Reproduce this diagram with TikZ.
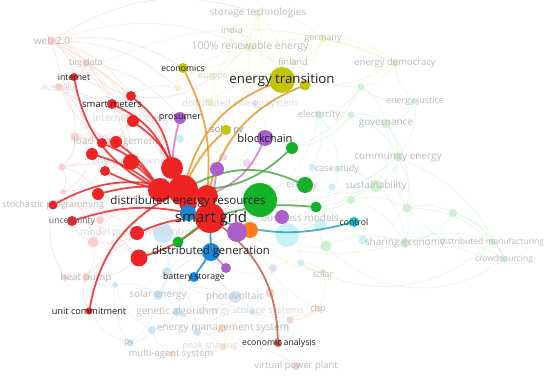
\documentclass[tikz,border=0pt]{standalone}
\usepackage{fontspec}
\setmainfont{Open Sans}
\usepackage{tikz}
\usetikzlibrary{positioning}

\definecolor{vred}{RGB}{238,36,36}
\definecolor{vgreen}{RGB}{20,178,40}
\definecolor{vblue}{RGB}{25,135,215}
\definecolor{vyellow}{RGB}{196,196,8}
\definecolor{vpurple}{RGB}{170,95,205}
\definecolor{vcyan}{RGB}{10,195,215}
\definecolor{vorange}{RGB}{255,125,20}
\definecolor{vbrown}{RGB}{200,90,70}
\definecolor{eorange}{RGB}{232,150,40}
\definecolor{epink}{RGB}{215,120,195}
\definecolor{egreen}{RGB}{70,172,70}
\definecolor{eteal}{RGB}{40,165,190}
\definecolor{fadetext}{RGB}{188,188,188}
\definecolor{faintext}{RGB}{215,215,215}

\newcommand{\fs}[1]{\fontsize{#1}{#1}\selectfont}

\pgfdeclarelayer{back}
\pgfdeclarelayer{fade}
\pgfdeclarelayer{hl}
\pgfsetlayers{back,fade,hl,main}

\begin{document}
\begin{tikzpicture}[x=1pt,y=-1pt,
kw/.style={circle,inner sep=0pt,minimum size=#1pt},
lab/.style={inner sep=0pt,text=black!88,font=\fs{#1}},
flab/.style={inner sep=0pt,font=\fs{#1}},
hl/.style={line width=1.8pt,draw opacity=0.85,line cap=round},
bg/.style={line width=0.5pt,draw opacity=0.55}
]
\useasboundingbox (0,0) rectangle (550,377);

% faded keywords
\begin{pgfonlayer}{fade}
\foreach \n/\x/\y/\d in {fr1/52/41/9,fr2/86/63/8,fr3/59/87/8,fr4/75/137/9,fr5/62/167/7,fr6/63/192/6,fr7/100/220/8,fr8/93/242/11,fr9/86/277/8,fr10/65/278/6}
  \node[kw=\d,fill=vred!22] (\n) at (\x,\y) {};
\foreach \n/\x/\y/\d in {fy1/258/13/8,fy2/232/30/5,fy3/250/47/9,fy4/323/39/7,fy5/293/62/7,fy6/213/77/7,fy7/210/102/8,fy8/395/63/8,fy9/178/88/6}
  \node[kw=\d,fill=vyellow!25] (\n) at (\x,\y) {};
\foreach \n/\x/\y/\d in {fg1/361/87/7,fg2/319/115/8,fg3/351/115/7,fg4/415/101/6,fg5/386/124/9,fg6/398/157/9,fg7/337/169/6,fg8/376/186/12,fg9/351/200/8,fg10/407/208/9,fg11/453/213/8,fg12/326/246/11,fg13/405/243/10,fg14/492/242/7,fg15/504/259/7}
  \node[kw=\d,fill=vgreen!20] (\n) at (\x,\y) {};
\foreach \n/\x/\y/\d in {fb1/163/233/20,fb2/167/272/10,fb3/158/295/10,fb4/235/297/12,fb5/177/312/9,fb6/152/330/8,fb7/130/343/7,fb8/197/332/8,fb9/252/312/6,fb10/115/285/6}
  \node[kw=\d,fill=vblue!22] (\n) at (\x,\y) {};
\foreach \n/\x/\y/\d in {fc1/287/235/24,fc2/320/225/12,fc3/363/240/9,fc4/301/263/7,fc5/312/167/7,fc6/332/187/7,fc7/180/139/8}
  \node[kw=\d,fill=vcyan!22] (\n) at (\x,\y) {};
\foreach \n/\x/\y/\d in {fo1/323/272/6,fo2/318/309/7,fo3/223/328/8,fo4/223/347/7,fo5/172/354/6}
  \node[kw=\d,fill=vorange!25] (\n) at (\x,\y) {};
\foreach \n/\x/\y/\d in {fp1/163/151/8,fp2/223/157/8,fp3/247/163/8,fp5/273/268/8,fp6/255/103/6}
  \node[kw=\d,fill=vpurple!25] (\n) at (\x,\y) {};
\foreach \n/\x/\y/\d in {fw1/296/366/8,fw2/290/320/7,fw3/270/293/9}
  \node[kw=\d,fill=vbrown!25] (\n) at (\x,\y) {};

\foreach \t/\x/\y/\s/\c [count=\i] in {
  storage technologies/258/13/10/fadetext, india/232/30/9.5/fadetext,
  100\% renewable energy/250/47/10.5/fadetext, germany/323/39/9/fadetext,
  finland/293/62/9/fadetext, europe/213/77/9/faintext,
  energy democracy/395/63/9.5/fadetext, web 2.0/52/41/10/fadetext,
  big data/86/63/9/fadetext, australia/59/87/9/faintext,
  internet of things/133/119/10/faintext, load management/116/142/10/fadetext,
  energy efficiency/131/162/10/faintext, distributed energy system/240/104/9.5/faintext,
  solar pv/227/130/9/black!45, electricity/319/115/9.5/fadetext,
  energy justice/415/101/9/fadetext, governance/386/124/10/fadetext,
  community energy/398/157/10/fadetext, case study/337/169/9/fadetext,
  energy/302/186/10/fadetext, sustainability/376/186/10/fadetext,
  business models/300/218/10/fadetext, sharing economy/405/243/10/fadetext,
  distributed manufacturing/492/242/8.5/fadetext, crowdsourcing/504/259/8.5/fadetext,
  stochastic programming/53/205/9/fadetext, model predictive control/137/233/10/faintext,
  heat pump/86/278/10/fadetext, solar/323/274/9/fadetext,
  chp/318/309/9/fadetext, solar energy/158/295/10/fadetext,
  photovoltaic/235/297/10/fadetext, genetic algorithm/177/312/10/fadetext,
  energy storage systems/252/312/9.5/faintext, energy management system/223/328/10/fadetext,
  peak shaving/210/346/9/faintext, multi-agent system/171/354/9.5/fadetext,
  virtual power plant/296/366/9.5/fadetext, pv/129/343/9/fadetext}
  \node[flab=\s,text=\c] (fl\i) at (\x,\y) {\t};
\end{pgfonlayer}

% highlighted keywords
\foreach \n/\x/\y/\d in {hr1/74/77/8,hr2/131/96/10,hr3/112/104/10,hr4/133/121/12,hr5/102/143/10,hr6/116/142/12,hr7/92/154/12,hr8/131/162/16,hr9/105/171/10,hr10/98/194/12,hr11/53/205/9,hr12/72/221/10,hr13/137/233/14,hr14/139/258/17,hr15/89/311/7,ra/172/168/22,rb/160/190/24,rc/207/196/22,rd/188/203/18,der/183/190/30}
  \node[kw=\d,fill=vred] (\n) at (\x,\y) {};
\node[kw=16,fill=vblue] (bl1) at (188,213) {};
\node[kw=30,fill=vred] (sg) at (210,218) {};
\foreach \n/\x/\y/\d in {gbig/260/200/34,g1/292/148/12,g2/305/185/16,g3/316/207/11,g4/178/242/11}
  \node[kw=\d,fill=vgreen] (\n) at (\x,\y) {};
\foreach \n/\x/\y/\d in {bc/265/138/16,pro/180/118/12,p1/217/169/14,p2/282/217/14,p4/226/268/10}
  \node[kw=\d,fill=vpurple] (\n) at (\x,\y) {};
\node[kw=16,fill=vorange] (o1) at (250,230) {};
\node[kw=20,fill=vpurple] (p3) at (237,232) {};
\node[kw=18,fill=vblue] (dg) at (211,252) {};
\node[kw=10,fill=vblue] (bs) at (194,277) {};
\node[kw=10,fill=vcyan] (ctl) at (354,222) {};
\node[kw=8,fill=vbrown] (ea) at (278,343) {};
\node[kw=26,fill=vyellow] (et) at (282,80) {};
\node[kw=11,fill=vyellow] (et2) at (305,85) {};
\node[kw=10,fill=vyellow] (eco) at (183,68) {};
\node[kw=10,fill=vyellow] (spv) at (226,130) {};

% faint links
\begin{pgfonlayer}{back}
\foreach \a/\b in {fr1/hr1,fr1/fr2,fr1/hr2,fr1/hr8,fr2/hr1,fr2/fr3,fr3/hr7,fr3/fr4,fr4/hr7,fr4/fr5,fr5/fr6,fr6/hr11,fr7/hr12,fr8/fr9,fr8/hr14,fr9/fr10,fr10/hr11,fr1/der,fr2/der,fr3/ra,fr4/rb,fr5/rb,fr8/rb,fr9/sg,fr7/der,hr1/hr4,hr2/hr6,hr3/hr8,hr5/hr9,hr9/hr13,hr11/hr13,hr12/hr14,fr1/eco,fr2/pro,fr5/hr10,fr6/fr8,fr1/fy9,hr2/fr2,hr3/fr3,hr4/fr4,hr5/fr5,hr6/fr3,hr7/fr6,hr8/fr1,hr9/fr6,hr10/fr7,hr13/fr8,hr14/fr9,hr15/fr9,fr8/hr12,fr7/fr8,hr11/fr7,fr4/hr6,fr2/hr3,fr3/hr1,fr10/fb10,hr13/fb1,fr1/hr3,fr2/hr4,hr2/fy9,fy6/hr2}
  \draw[bg,vred!30] (\a) to[bend left=20] (\b);
\foreach \a/\b in {fy1/fy3,fy1/et,fy2/fy3,fy3/et,fy3/eco,fy4/et,fy4/fy5,fy5/et,fy6/et,fy6/eco,fy7/et,fy7/spv,fy8/et,fy8/fg1,fy1/fy4,fy1/fy6,fy3/fy8,fy2/fy6,fy3/der,fy1/sg,fy7/der,fy9/eco,fy9/fy7,fy4/fy8,fy2/et,fy5/fy3,fy6/fy7,fy9/fy3}
  \draw[bg,vyellow!35] (\a) to[bend left=20] (\b);
\foreach \a/\b in {fg1/fg5,fg1/fg2,fg2/fg3,fg3/fg5,fg4/fg5,fg4/fg6,fg5/fg6,fg6/fg8,fg7/fg8,fg8/fg13,fg9/fg10,fg10/fg11,fg11/fg13,fg13/fg14,fg14/fg15,fg13/fg15,fg12/fg13,fg8/gbig,fg6/gbig,fg2/gbig,fg10/fg14,fg6/fg13,fg1/g1,fg8/g2,fg4/fy8,fg13/sg,fg6/fg15,fg11/fg15,fg3/g1,fg9/g3,fg12/g3,fg2/fg7,fg1/fy5,fg2/fc5,fg5/fg8,fg3/fg6,fg7/fc6,fg9/fg13,fg12/fc1,fg10/fg6,fg4/fg1,fg11/fg14,fg5/fg10,g2/fg7,fg15/fg10}
  \draw[bg,vgreen!25] (\a) to[bend left=20] (\b);
\foreach \a/\b in {fb1/fb3,fb2/fb3,fb3/fb5,fb3/fb4,fb4/fb5,fb5/fb6,fb6/fb7,fb5/fb8,fb8/fb9,fb4/fb9,fb4/dg,fb3/dg,fb6/fb8,fb7/fb10,fb10/fb3,fb2/dg,fb1/fb2,fb9/fw3,fb7/hr15,fb10/fr9,fb1/dg,fb2/fb8,fb3/fb7,fb6/fb10,fb5/fb9,fb4/fb2,fb8/fo4,bs/fb2,bs/fb4}
  \draw[bg,vblue!25] (\a) to[bend left=20] (\b);
\foreach \a/\b in {fo1/fo2,fo2/fo3,fo3/fo4,fo4/fo5,fo2/o1,fo1/o1,fo3/fb4,fo5/fb6,fo2/fw2,fo4/fw1,fo1/fc4,fo2/fb9,fo3/fb8,fo5/fb7}
  \draw[bg,vorange!30] (\a) to[bend left=20] (\b);
\foreach \a/\b in {fc1/fc2,fc2/ctl,fc3/ctl,fc1/fc4,fc5/fc6,fc6/fc1,fc7/pro,fc2/fg8,fc3/fg13,fc4/fo1,fw1/fw2,fw2/fw3,fw3/ea,fw1/ea,fw2/ea,fp1/pro,fp2/p1,fp3/bc,fp5/p4,fp6/bc,fp2/fp3,fp1/ra,fp5/fc4}
  \draw[bg,vcyan!25] (\a) to[bend left=20] (\b);
\draw[bg,vgreen!25] (fg12) to[bend right=40] (fg15);
\draw[bg,vgreen!25] (fc4) to[bend right=35] (fg14);
\draw[bg,vyellow!35] (hr1) to[bend left=25] (fy8);
\draw[bg,vyellow!35] (fr1) to[bend left=20] (fy3);
\draw[bg,vred!30] (fr1) to[bend left=25] (fy1);
\end{pgfonlayer}

% links of smart grid
\begin{pgfonlayer}{hl}
\draw[hl,vred] (rb) to[bend left=25] (hr1);
\draw[hl,vred] (ra) to[bend right=20] (hr2);
\draw[hl,vred] (ra) to[bend right=20] (hr3);
\draw[hl,vred] (der) to[bend right=15] (hr4);
\draw[hl,vred] (rb) to[bend right=15] (hr5);
\draw[hl,vred] (rb) to[bend right=10] (hr6);
\draw[hl,vred] (rb) to[bend right=10] (hr7);
\draw[hl,vred] (rb) to[bend right=5] (hr8);
\draw[hl,vred] (der) to[bend left=10] (hr9);
\draw[hl,vred] (der) to[bend right=10] (hr10);
\draw[hl,vred] (der) to[bend right=20] (hr11);
\draw[hl,vred] (sg) to[bend right=15] (hr12);
\draw[hl,vred] (sg) to[bend right=10] (hr13);
\draw[hl,vred] (sg) to[bend left=10] (hr14);
\draw[hl,vred] (der) to[bend right=25] (hr15);
\draw[hl,eorange] (rc) to[bend right=15] (eco);
\draw[hl,eorange] (der) to[bend left=25] (et);
\draw[hl,eorange] (rc) to[bend left=25] (et2);
\draw[hl,eorange] (der) to[bend left=10] (spv);
\draw[hl,epink] (ra) to[bend left=5] (pro);
\draw[hl,epink] (rc) to[bend right=20] (bc);
\draw[hl,epink] (sg) -- (p1);
\draw[hl,egreen] (der) to[bend right=20] (g1);
\draw[hl,egreen] (der) to[bend left=25] (g2);
\draw[hl,egreen] (sg) to[bend left=10] (g3);
\draw[hl,egreen] (sg) -- (g4);
\draw[hl,eteal] (sg) to[bend right=15] (ctl);
\draw[hl,vbrown] (sg) to[bend left=25] (ea);
\draw[hl,vblue] (sg) -- (dg);
\draw[hl,vblue] (dg) -- (bs);
\draw[hl,epink] (dg) -- (p4);
\end{pgfonlayer}

% labels of highlighted keywords
\node[lab=13.3] (et-l) at (282,80) {energy transition};
\node[lab=8.7] (eco-l) at (183,68) {economics};
\node[lab=8.7] (hr1-l) at (74,77) {internet};
\node[lab=9.5] (hr3-l) at (112,104) {smart meters};
\node[lab=9.2] (pro-l) at (180,118) {prosumer};
\node[lab=11.1] (bc-l) at (265,138) {blockchain};
\node[lab=11.6] (der-l) at (188,201) {distributed energy resources};
\node[lab=15] (sg-l) at (211,219) {smart grid};
\node[lab=11.3] (dg-l) at (211,252) {distributed generation};
\node[lab=8.7] (bs-l) at (194,277) {battery storage};
\node[lab=9.2] (hr15-l) at (89,311) {unit commitment};
\node[lab=8.7] (ea-l) at (279,343) {economic analysis};
\node[lab=8.7] (ctl-l) at (354,222) {control};
\node[lab=8.7,text=black!60] (hr12-l) at (72,221) {uncertainty};
\end{tikzpicture}
\end{document}
